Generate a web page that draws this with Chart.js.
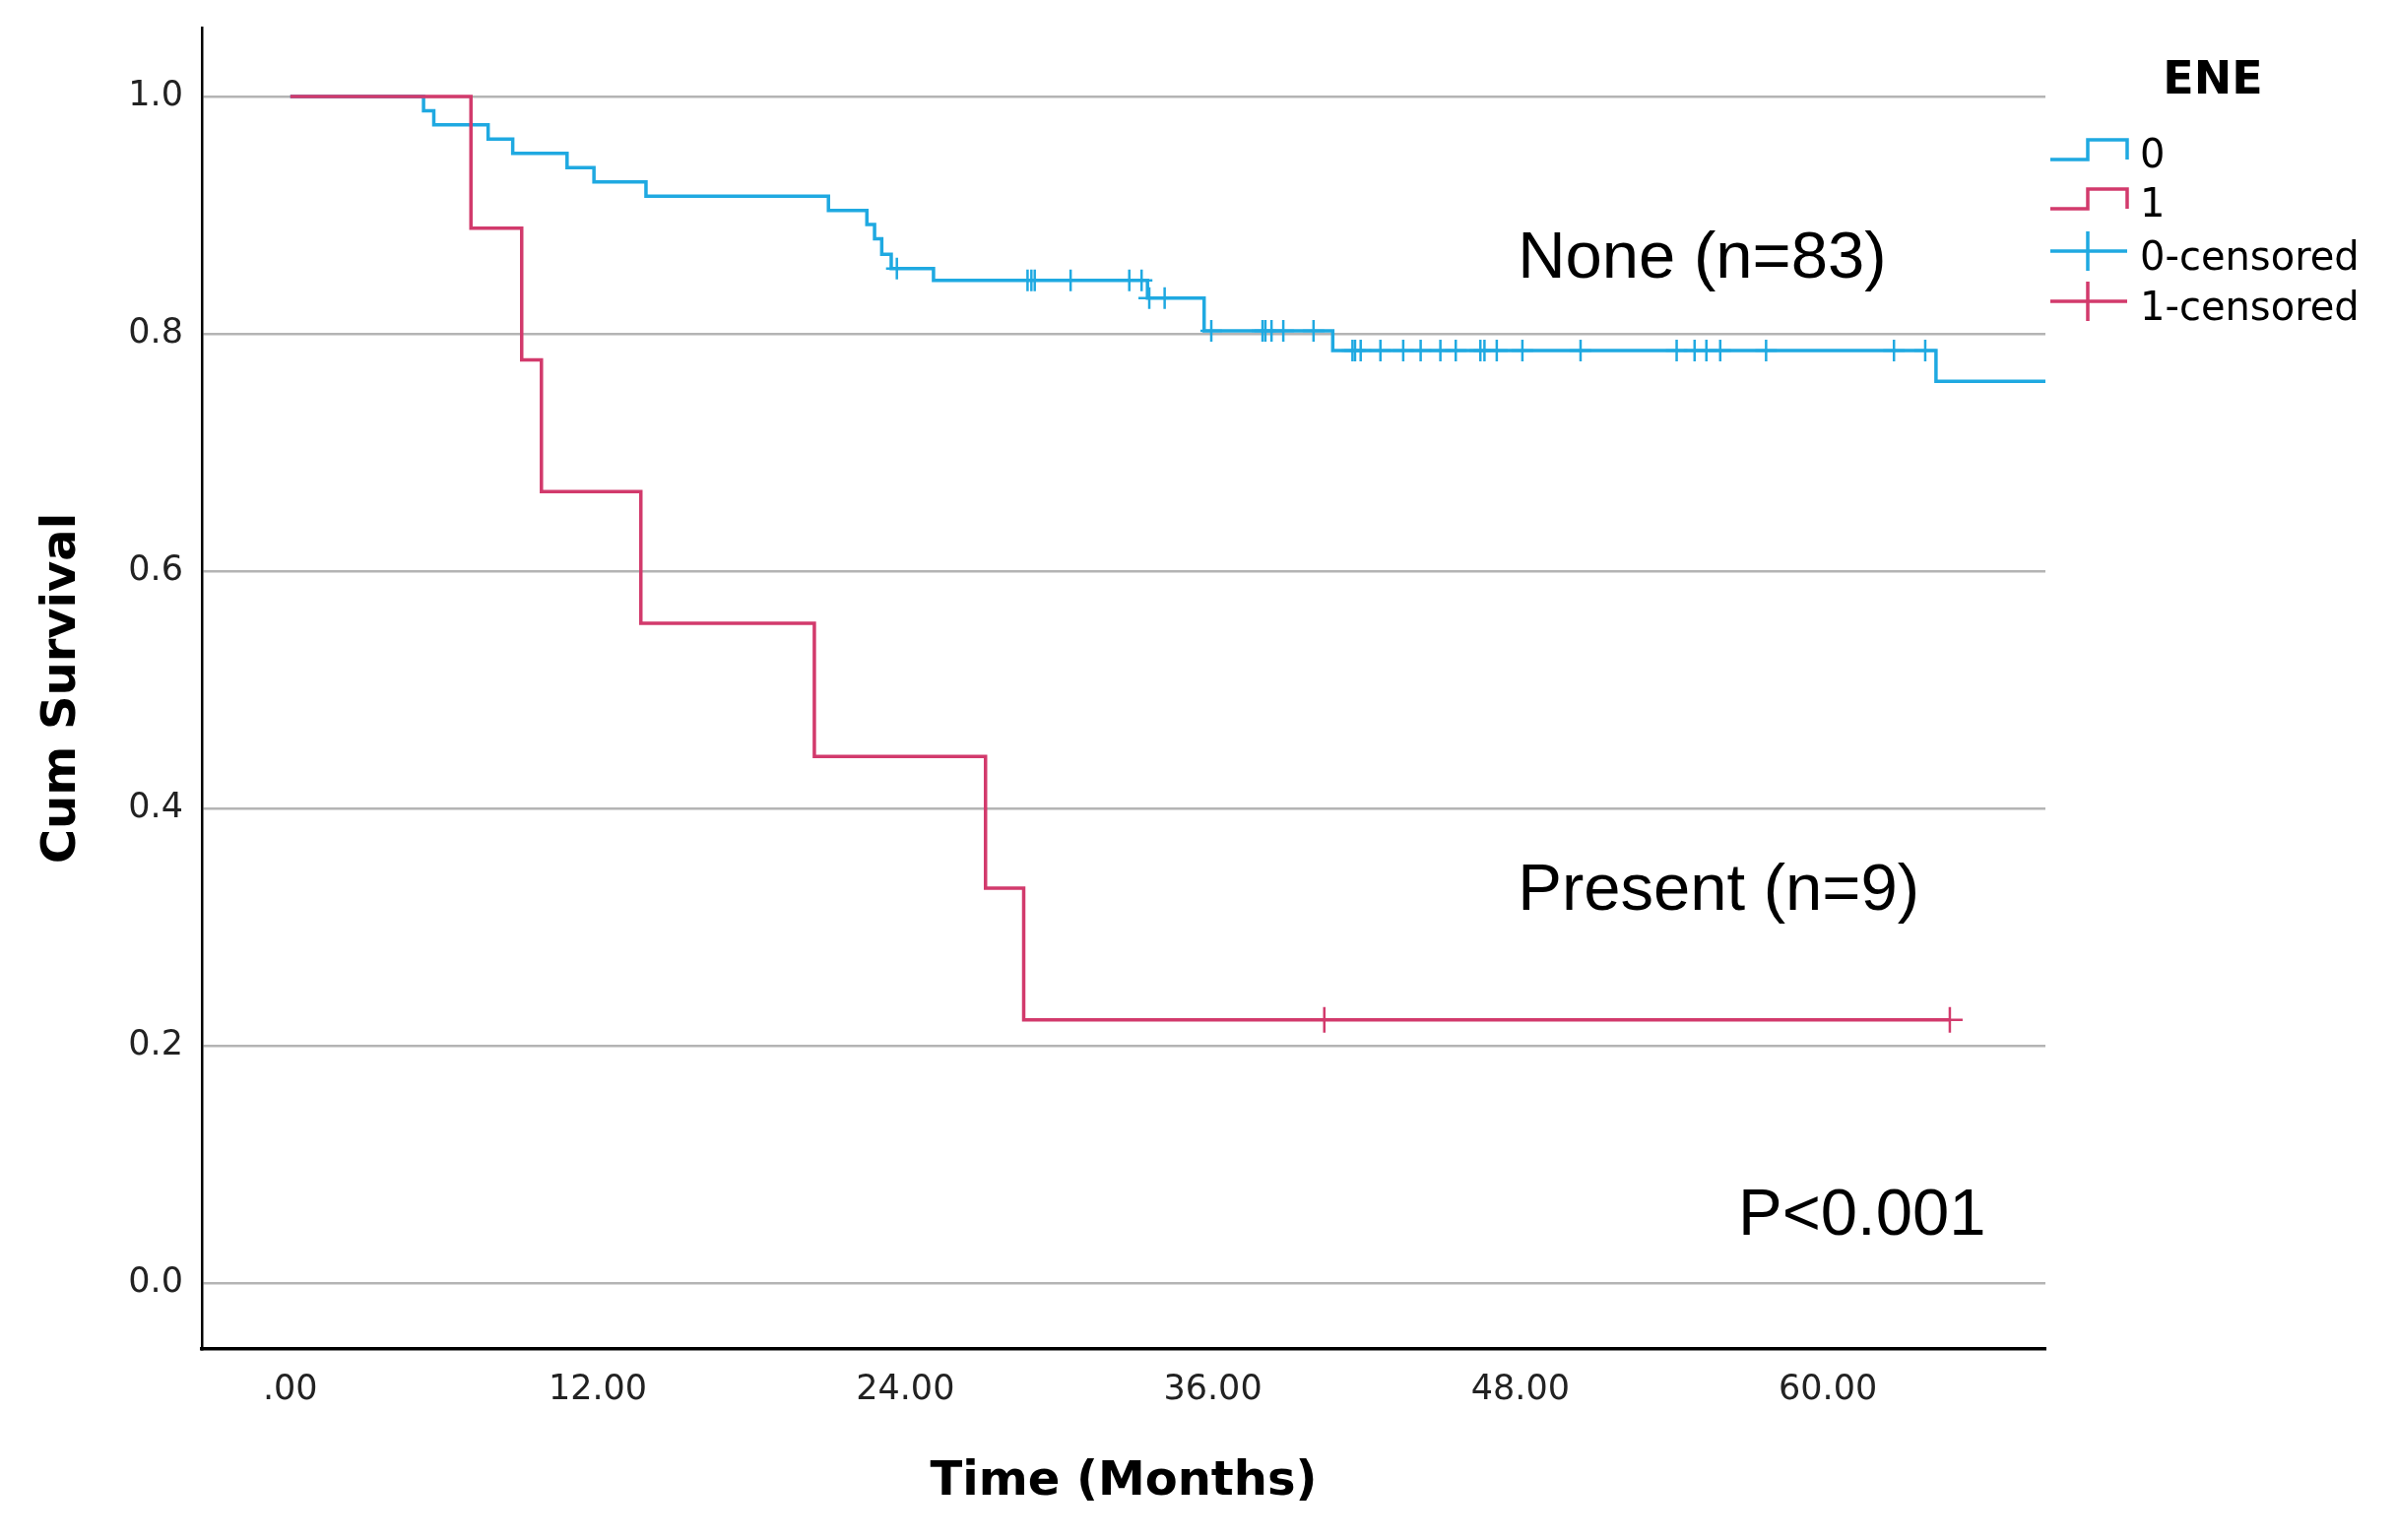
<!DOCTYPE html>
<html>
<head>
<meta charset="utf-8">
<script src="https://cdn.jsdelivr.net/npm/chart.js@4.4.1/dist/chart.umd.min.js"></script>
<style>
  html, body { margin: 0; padding: 0; background: #fff; }
  #wrap { width: 2433px; height: 1564px; }
</style>
</head>
<body>
<div id="wrap"><canvas id="chart" width="2433" height="1564"></canvas></div>
<script>
// Kaplan-Meier steps, ENE = 0 (None, n=83)
const blueTimes = [0, 5.2, 5.6, 7.72, 8.68, 10.8, 11.85, 13.88, 21.0, 22.5, 22.8, 23.08, 23.45, 25.1, 33.45, 35.66, 40.68, 64.22, 68.49];
const blueSurv = [1, 0.988, 0.976, 0.964, 0.952, 0.940, 0.928, 0.916, 0.904, 0.892, 0.880, 0.867, 0.855, 0.845, 0.830, 0.8025, 0.786, 0.760, 0.760];
const blueCensored = [23.67, 28.77, 28.92, 29.05, 30.45, 32.74, 33.22, 33.52, 34.12, 35.94, 37.94, 38.05, 38.29, 38.75, 39.93,
  41.45, 41.55, 41.77, 42.54, 43.43, 44.11, 44.88, 45.48, 46.44, 46.6, 47.08, 48.08, 50.35, 54.1, 54.8, 55.26, 55.8, 57.59, 62.58, 63.8];

// ENE = 1 (Present, n=9)
const redTimes = [0, 7.05, 9.03, 9.8, 13.68, 20.45, 27.13, 28.62, 64.76];
const redSurv = [1, 0.889, 0.778, 0.667, 0.556, 0.444, 0.333, 0.222, 0.222];
const redCensored = [40.35, 64.76];

// axis ticks
const xTickValues = [0, 12, 24, 36, 48, 60];
const xTickLabels = ['.00', '12.00', '24.00', '36.00', '48.00', '60.00'];
const yTickValues = [0, 0.2, 0.4, 0.6, 0.8, 1.0];
const yTickLabels = ['0.0', '0.2', '0.4', '0.6', '0.8', '1.0'];

const legendTitle = 'ENE';
const legendLabels = ['0', '1', '0-censored', '1-censored'];

const notes = [
  { text: 'None (n=83)', x: 47.9, y: 0.847 },
  { text: 'Present (n=9)', x: 47.9, y: 0.315 },
  { text: 'P<0.001', x: 56.5, y: 0.041 }
];

const BLUE = '#1fa9e1';
const RED = '#d23a6c';

// survival value of a step curve at time t
function survAt(times, surv, t) {
  let s = surv[0];
  for (let i = 0; i < times.length; i++) {
    if (times[i] <= t) s = surv[i];
  }
  return s;
}

const toPoints = (ts, ss) => ts.map((t, i) => ({ x: t, y: ss[i] }));
const censorPoints = (cs, ts, ss) => cs.map(t => ({ x: t, y: survAt(ts, ss, t) }));

// legend + text notes drawn on top of the chart
const extras = {
  id: 'extras',
  afterDraw(chart) {
    const ctx = chart.ctx;
    const xs = chart.scales.x, ys = chart.scales.y;
    ctx.save();

    // notes inside plot
    ctx.fillStyle = '#000';
    ctx.font = '67px "Liberation Sans", Arial, sans-serif';
    ctx.textAlign = 'left';
    ctx.textBaseline = 'alphabetic';
    notes.forEach(n => ctx.fillText(n.text, xs.getPixelForValue(n.x), ys.getPixelForValue(n.y)));

    // legend title
    ctx.font = 'bold 46px "DejaVu Sans", sans-serif';
    ctx.textAlign = 'center';
    ctx.fillText(legendTitle, 2247, 95);

    // legend items
    const x0 = 2082, xm = 2120, x1 = 2160;
    const rows = [170, 220, 274, 325];
    const colors = [BLUE, RED, BLUE, RED];
    ctx.font = '40px "DejaVu Sans", sans-serif';
    ctx.textAlign = 'left';
    rows.forEach((base, i) => {
      ctx.strokeStyle = colors[i];
      ctx.lineWidth = 3.5;
      ctx.beginPath();
      if (i < 2) {
        const lo = base - 8, hi = base - 28;
        ctx.moveTo(x0, lo);
        ctx.lineTo(xm, lo);
        ctx.lineTo(xm, hi);
        ctx.lineTo(x1, hi);
        ctx.lineTo(x1, lo);
      } else {
        const mid = base - 19;
        ctx.moveTo(x0, mid);
        ctx.lineTo(x1, mid);
        ctx.moveTo(xm, mid - 20);
        ctx.lineTo(xm, mid + 20);
      }
      ctx.stroke();
      ctx.fillStyle = '#000';
      ctx.fillText(legendLabels[i], 2173, base);
    });
    ctx.restore();
  }
};

const ctx = document.getElementById('chart').getContext('2d');

new Chart(ctx, {
  type: 'line',
  data: {
    datasets: [
      {
        label: '1-censored',
        data: censorPoints(redCensored, redTimes, redSurv),
        showLine: false,
        pointStyle: 'cross',
        pointRadius: 13,
        pointBorderWidth: 2.5,
        pointBorderColor: RED,
        pointBackgroundColor: RED
      },
      {
        label: '0-censored',
        data: censorPoints(blueCensored, blueTimes, blueSurv),
        showLine: false,
        pointStyle: 'cross',
        pointRadius: 11,
        pointBorderWidth: 2.5,
        pointBorderColor: BLUE,
        pointBackgroundColor: BLUE
      },
      {
        label: '1',
        data: toPoints(redTimes, redSurv),
        borderColor: RED,
        borderWidth: 3.5,
        stepped: 'before',
        pointRadius: 0,
        fill: false
      },
      {
        label: '0',
        data: toPoints(blueTimes, blueSurv),
        borderColor: BLUE,
        borderWidth: 3.5,
        stepped: 'before',
        pointRadius: 0,
        fill: false
      }
    ]
  },
  options: {
    responsive: false,
    maintainAspectRatio: false,
    devicePixelRatio: 1,
    animation: false,
    layout: { padding: { left: 0, right: 356, top: 28, bottom: 0 } },
    plugins: {
      legend: { display: false },
      tooltip: { enabled: false }
    },
    scales: {
      x: {
        type: 'linear',
        min: -3.45,
        max: 68.49,
        afterBuildTicks: s => { s.ticks = xTickValues.map(v => ({ value: v })); },
        afterFit: s => { s.height = 194; s.paddingLeft = 0; s.paddingRight = 0; },
        ticks: {
          callback: v => xTickLabels[xTickValues.indexOf(v)],
          font: { family: '"DejaVu Sans", sans-serif', size: 35 },
          color: '#222',
          padding: 21,
          maxRotation: 0,
          autoSkip: false
        },
        grid: { display: true, color: 'rgba(0,0,0,0)', drawTicks: false },
        border: { display: true, color: '#000', width: 3.5 },
        title: {
          display: true,
          text: 'Time (Months)',
          color: '#000',
          font: { family: '"DejaVu Sans", sans-serif', size: 48, weight: 'bold', lineHeight: 1 },
          padding: { top: 0, bottom: 34 }
        }
      },
      y: {
        type: 'linear',
        min: -0.0553,
        max: 1.058,
        afterBuildTicks: s => { s.ticks = yTickValues.map(v => ({ value: v })); },
        afterFit: s => { s.width = 205; s.paddingTop = 0; s.paddingBottom = 0; },
        ticks: {
          callback: v => yTickLabels[yTickValues.indexOf(v)],
          font: { family: '"DejaVu Sans", sans-serif', size: 35 },
          color: '#222',
          padding: 19,
          autoSkip: false
        },
        grid: { color: '#b4b4b4', lineWidth: 2.5, drawTicks: false },
        border: { display: true, color: '#000', width: 2.5 },
        title: {
          display: true,
          text: 'Cum Survival',
          color: '#000',
          font: { family: '"DejaVu Sans", sans-serif', size: 48, weight: 'bold', lineHeight: 1 },
          padding: { top: 40, bottom: 0 }
        }
      }
    }
  },
  plugins: [extras]
});
</script>
</body>
</html>
